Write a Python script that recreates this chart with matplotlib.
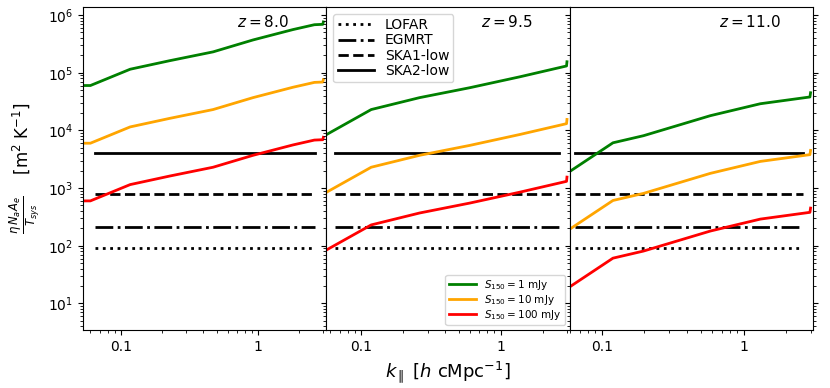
import numpy as np
import matplotlib
matplotlib.use("Agg")
from matplotlib import pyplot as plt

# redshift panels
redshifts = ["8.0", "9.5", "11.0"]

# k_parallel sampling per panel [h cMpc^-1]
k_z8 = [0.053, 0.060, 0.117, 0.228, 0.471, 0.92, 1.80, 2.58, 2.97, 3.0]
k_z95 = [0.0561, 0.118, 0.262, 0.60, 1.37, 2.96, 2.98]
k_z11 = [0.0597, 0.12, 0.197, 0.582, 1.31, 2.93, 2.96]

# sensitivity curves, eta N_a A_e / T_sys
s1_z8 = [6.0e4, 6.0e4, 1.15e5, 1.62e5, 2.3e5, 3.7e5, 5.6e5, 6.8e5, 6.9e5, 7.6e5]
s10_z8 = [6.0e3, 6.0e3, 1.15e4, 1.62e4, 2.3e4, 3.7e4, 5.6e4, 6.8e4, 6.9e4, 7.6e4]
s100_z8 = [6.0e2, 6.0e2, 1.15e3, 1.62e3, 2.3e3, 3.7e3, 5.6e3, 6.8e3, 6.9e3, 7.6e3]

s1_z95 = [8.4e3, 2.3e4, 3.7e4, 5.5e4, 8.5e4, 1.31e5, 1.55e5]
s10_z95 = [8.4e2, 2.3e3, 3.7e3, 5.5e3, 8.5e3, 1.31e4, 1.55e4]
s100_z95 = [84, 230, 370, 550, 850, 1310, 1550]

s1_z11 = [1.95e3, 6.1e3, 8.1e3, 1.8e4, 2.9e4, 3.8e4, 4.5e4]
s10_z11 = [195, 610, 810, 1.8e3, 2.9e3, 3.8e3, 4.5e3]
s100_z11 = [19.5, 61, 81, 180, 290, 380, 450]

# instrument levels
instruments = ["LOFAR", "EGMRT", "SKA1-low", "SKA2-low"]
inst_values = [90, 208, 800, 4000]
inst_styles = [":", "-.", "--", "-"]
inst_krange = [0.065, 2.6]

flux_labels = [r"$S_{150} = 1$ mJy", r"$S_{150} = 10$ mJy", r"$S_{150} = 100$ mJy"]
flux_colors = ["green", "orange", "red"]

panels = [
    (k_z8, [s1_z8, s10_z8, s100_z8], (0.053, 3.16)),
    (k_z95, [s1_z95, s10_z95, s100_z95], (0.0564, 3.13)),
    (k_z11, [s1_z11, s10_z11, s100_z11], (0.0597, 3.1)),
]

fig, axes = plt.subplots(1, 3, figsize=(8.3, 3.88), dpi=100, sharey=True)
fig.subplots_adjust(left=0.1, right=0.98, top=0.982, bottom=0.149, wspace=0)

for i, ax in enumerate(axes):
    k, curves, xlim = panels[i]
    for val, ls, name in zip(inst_values, inst_styles, instruments):
        ax.plot(inst_krange, [val, val], color="black", ls=ls, lw=2, label=name)
    for vals, col, lab in zip(curves, flux_colors, flux_labels):
        ax.plot(k, vals, color=col, lw=2, label=lab)
    ax.set_xscale("log")
    ax.set_yscale("log")
    ax.set_xlim(xlim)
    ax.set_ylim(3.44, 1.38e6)
    ax.set_xticks([0.1, 1])
    ax.set_xticklabels(["0.1", "1"])
    ax.tick_params(which="both", right=True, direction="out", labelsize=10)
    ax.text(0.74, 0.955, r"$z = %s$" % redshifts[i], transform=ax.transAxes,
            ha="center", va="center", fontsize=11)

# legends in the middle panel
h, l = axes[1].get_legend_handles_labels()
leg1 = axes[1].legend(h[:4], l[:4], loc="upper left", fontsize=10,
                      handlelength=2.6, labelspacing=0.1, borderpad=0.3)
axes[1].add_artist(leg1)
axes[1].legend(h[4:], l[4:], loc="lower right", fontsize=7.5,
               handlelength=2.6, labelspacing=0.1, borderpad=0.3)

axes[0].set_ylabel(r"$\frac{\eta\, N_a A_e}{T_{sys}}$    [m$^2$ K$^{-1}$]", fontsize=12)
axes[1].set_xlabel(r"$k_\parallel$ [$h$ cMpc$^{-1}$]", fontsize=13)

plt.savefig("out.png", dpi=100)
